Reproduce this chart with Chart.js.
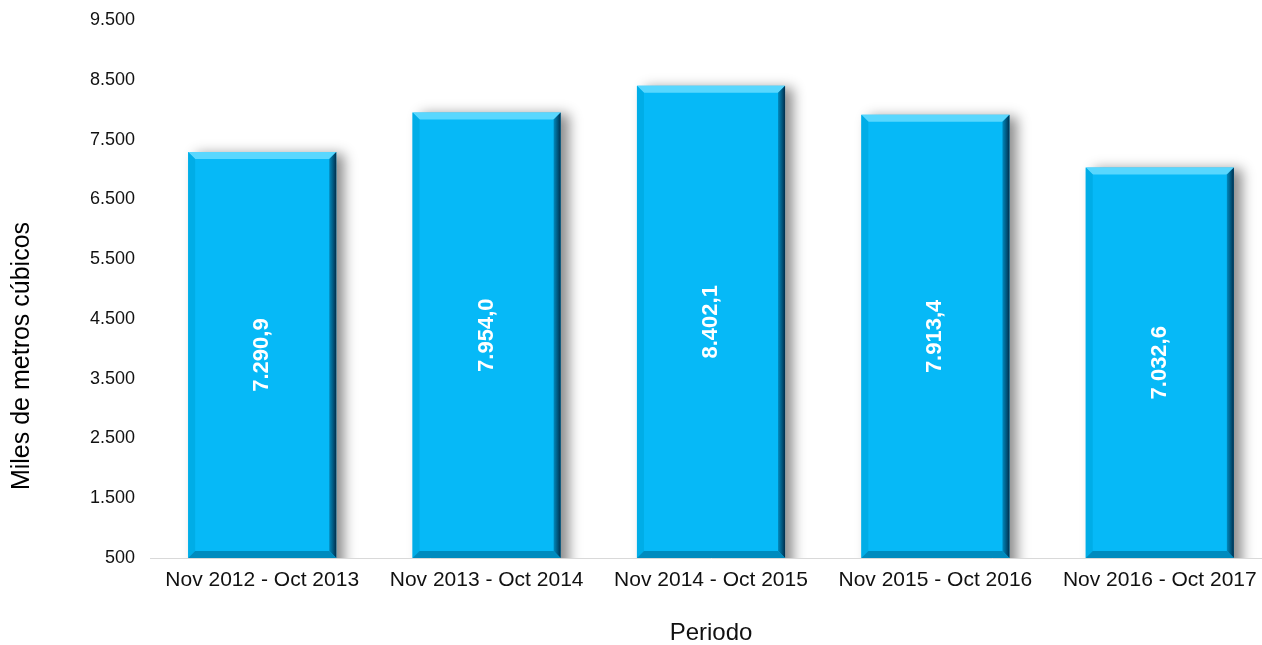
<!DOCTYPE html>
<html>
<head>
<meta charset="utf-8">
<script src="https://cdn.jsdelivr.net/npm/chart.js@4"></script>
<style>
  html, body { margin: 0; padding: 0; background: #fff; overflow: hidden; }
  #wrap { width: 1272px; height: 645px; }
</style>
</head>
<body>
<div id="wrap"><canvas id="bars"></canvas></div>
<script>
const periodos = ['Nov 2012 - Oct 2013', 'Nov 2013 - Oct 2014', 'Nov 2014 - Oct 2015', 'Nov 2015 - Oct 2016', 'Nov 2016 - Oct 2017'];
const volumen = [7290.9, 7954.0, 8402.1, 7913.4, 7032.6];
const yMin = 500;
const yMax = 9500;
const yStep = 1000;

// 1234.5 -> "1.234,5"
function fmt(v, dec) {
    const parts = v.toFixed(dec).split('.');
    parts[0] = parts[0].replace(/\B(?=(\d{3})+(?!\d))/g, '.');
    return parts.join(',');
}

const fontName = '"Liberation Sans", Arial, sans-serif';

// sombra + bisel estilo Excel
const bevelPlugin = {
    id: 'bevel',
    beforeDatasetsDraw(chart) {
        const ctx = chart.ctx;
        ctx.save();
        ctx.shadowColor = 'rgba(0,0,0,0.45)';
        ctx.shadowBlur = 12;
        ctx.shadowOffsetX = 8;
        ctx.shadowOffsetY = 2;
    },
    afterDatasetsDraw(chart) {
        const ctx = chart.ctx;
        ctx.restore();
        const meta = chart.getDatasetMeta(0);
        const b = 7;
        meta.data.forEach((bar, i) => {
            const l = bar.x - bar.width / 2, r = bar.x + bar.width / 2;
            const t = bar.y, bt = Math.min(bar.base, chart.chartArea.bottom);
            ctx.save();
            // arriba claro
            ctx.fillStyle = 'rgba(110,222,255,0.8)';
            ctx.beginPath();
            ctx.moveTo(l, t); ctx.lineTo(r, t); ctx.lineTo(r - b, t + b); ctx.lineTo(l + b, t + b);
            ctx.closePath(); ctx.fill();
            // derecha oscuro
            const g = ctx.createLinearGradient(r - b, 0, r, 0);
            g.addColorStop(0, 'rgba(0,130,180,0.9)');
            g.addColorStop(1, 'rgba(0,45,75,1)');
            ctx.fillStyle = g;
            ctx.beginPath();
            ctx.moveTo(r, t); ctx.lineTo(r, bt); ctx.lineTo(r - b, bt - b); ctx.lineTo(r - b, t + b);
            ctx.closePath(); ctx.fill();
            // izquierda
            ctx.fillStyle = 'rgba(0,172,228,0.9)';
            ctx.beginPath();
            ctx.moveTo(l, t); ctx.lineTo(l + b, t + b); ctx.lineTo(l + b, bt - b); ctx.lineTo(l, bt);
            ctx.closePath(); ctx.fill();
            // abajo
            ctx.fillStyle = 'rgba(0,130,180,0.85)';
            ctx.beginPath();
            ctx.moveTo(l, bt); ctx.lineTo(l + b, bt - b); ctx.lineTo(r - b, bt - b); ctx.lineTo(r, bt);
            ctx.closePath(); ctx.fill();

            // etiqueta del valor, vertical
            ctx.translate(bar.x, (t + bt) / 2);
            ctx.rotate(-Math.PI / 2);
            ctx.fillStyle = '#ffffff';
            ctx.font = 'bold 22px ' + fontName;
            ctx.textAlign = 'center';
            ctx.textBaseline = 'middle';
            ctx.fillText(fmt(volumen[i], 1), 0, 0);
            ctx.restore();
        });
    },
    afterDraw(chart) {
        // titulo del eje Y
        const ctx = chart.ctx;
        ctx.save();
        ctx.translate(22, 356);
        ctx.rotate(-Math.PI / 2);
        ctx.fillStyle = '#000';
        ctx.font = '25px ' + fontName;
        ctx.textAlign = 'center';
        ctx.textBaseline = 'middle';
        ctx.fillText('Miles de metros cúbicos', 0, 0);
        ctx.restore();
    }
};

new Chart(document.getElementById('bars'), {
    type: 'bar',
    data: {
        labels: periodos,
        datasets: [{
            data: volumen,
            backgroundColor: '#06b9f7',
            borderWidth: 0,
            barPercentage: 0.66,
            categoryPercentage: 1.0
        }]
    },
    options: {
        responsive: true,
        maintainAspectRatio: false,
        animation: false,
        layout: { padding: { top: 20, right: 0, left: 0, bottom: 0 } },
        plugins: {
            legend: { display: false },
            tooltip: { enabled: false }
        },
        scales: {
            x: {
                grid: { display: false, drawTicks: false },
                border: { display: true, color: '#d9d9d9', width: 1 },
                ticks: {
                    color: '#111',
                    font: { family: fontName, size: 21 },
                    padding: 10,
                    maxRotation: 0,
                    autoSkip: false
                },
                title: {
                    display: true,
                    text: 'Periodo',
                    color: '#111',
                    font: { family: fontName, size: 24, lineHeight: 1 },
                    padding: { top: 0, bottom: 0 }
                },
                afterFit(s) { s.height = 87; }
            },
            y: {
                min: yMin,
                max: yMax,
                grid: { display: false, drawTicks: false },
                border: { display: false },
                ticks: {
                    stepSize: yStep,
                    color: '#111',
                    font: { family: fontName, size: 18 },
                    padding: 15,
                    callback: v => fmt(v, 0)
                },
                afterFit(s) {
                    s.width = 150;
                    s.paddingTop = 10;
                    s.paddingBottom = 10;
                }
            }
        }
    },
    plugins: [bevelPlugin]
});
</script>
</body>
</html>
